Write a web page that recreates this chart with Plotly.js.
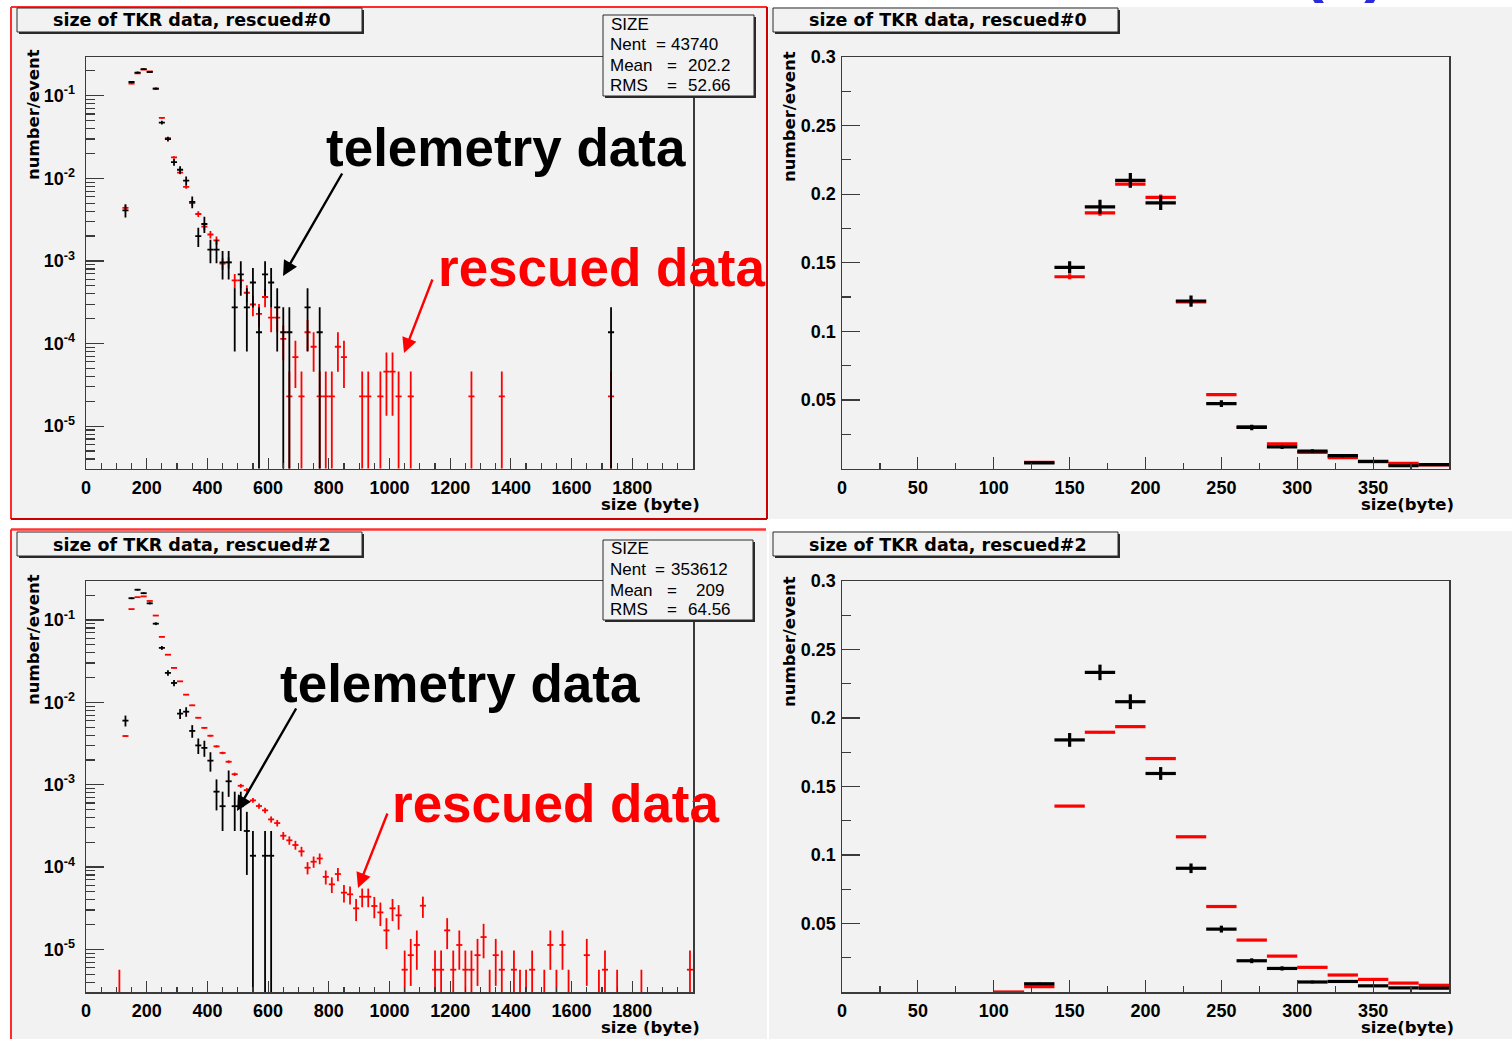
<!DOCTYPE html>
<html><head><meta charset="utf-8">
<script src="https://cdn.plot.ly/plotly-3.0.1.min.js"></script>
<style>html,body{margin:0;padding:0;background:#fff;}#chart{width:1512px;height:1039px;}</style>
</head><body><div id="chart"></div>
<script>
// ---------------- DATA (per-event fractions, 20-byte bins, bin centres) ----------------
const N_TEL = 7290;       // telemetry events (1 count = 1.37e-4)
const N_RES0 = 43740;     // rescued#0 entries
const N_RES2 = 353612;    // rescued#2 entries

const tel0X = [130,150,170,190,210,230,250,270,290,310,330,350,370,390,410,430,450,470,490,510,530,550,570,590,610,630,650,670,730,770,1730];
const tel0Y = [0.0041,0.1466,0.1908,0.2100,0.1937,0.1221,0.0473,0.0299,0.0157,0.0127,0.0094,0.0052,0.0020,0.0028,0.00137,0.00137,0.00096,0.00096,0.000274,0.000686,0.000274,0.000548,0.000137,0.000686,0.000548,0.000274,0.000137,0.000137,0.000274,0.000137,0.000137];

const res0X = [130,150,170,190,210,230,250,270,290,310,330,350,370,390,410,430,450,470,490,510,530,550,570,590,610,630,650,670,690,710,730,750,770,790,810,830,850,910,930,970,990,1010,1030,1070,1270,1370,1730];
const res0Y = [0.0044,0.1398,0.1864,0.2073,0.1976,0.1215,0.0539,0.0306,0.0179,0.0117,0.0079,0.0050,0.0037,0.0026,0.00209,0.00177,0.00093,0.00096,0.00058,0.00058,0.000412,0.000297,0.000229,0.000366,0.000206,0.000206,0.000114,0.0000229,0.0000686,0.0000229,0.000137,0.0000914,0.0000229,0.0000229,0.0000229,0.0000914,0.0000686,0.0000229,0.0000229,0.0000229,0.0000457,0.0000457,0.0000229,0.0000229,0.0000229,0.0000229,0.0000229];

const tel2X = [130,150,170,190,210,230,250,270,290,310,330,350,370,390,410,430,450,470,490,510,530,550,590,610];
const tel2Y = [0.0060,0.1840,0.2333,0.2119,0.1595,0.0903,0.0459,0.0228,0.0172,0.0073,0.0077,0.0045,0.0030,0.0028,0.00196,0.000823,0.000548,0.0011,0.000548,0.000548,0.000274,0.000137,0.000137,0.000137];

const res2X = [110,130,150,170,190,210,230,250,270,290,310,330,350,370,390,410,430,450,470,490,510,530,550,570,590,610,630,650,670,690,710,730,750,770,790,810,830,850,870,890,910,930,950,970,990,1010,1030,1050,1070,1090,1110,1150,1170,1190,1210,1230,1250,1270,1290,1310,1330,1350,1370,1410,1430,1450,1470,1510,1530,1550,1570,1590,1650,1690,1710,1750,1830,1990];
const res2Y = [0.00000283,0.0039,0.1357,0.1896,0.1937,0.1704,0.1133,0.0624,0.0379,0.0262,0.0180,0.0124,0.0092,0.0065,0.0049,0.00393,0.00292,0.00243,0.0019,0.00134,0.00097,0.00086,0.000645,0.000551,0.000488,0.000379,0.000342,0.00024,0.000211,0.000185,0.000155,0.000098,0.000116,0.000127,0.000076,0.0000616,0.0000822,0.0000488,0.0000466,0.0000315,0.0000436,0.0000436,0.0000336,0.0000281,0.0000170,0.0000315,0.0000259,0.00000566,0.0000085,0.0000113,0.0000339,0.00000566,0.00000566,0.000017,0.00000566,0.0000113,0.00000566,0.00000566,0.0000085,0.0000141,0.00000283,0.0000085,0.00000566,0.00000566,0.00000283,0.00000283,0.00000566,0.00000283,0.0000113,0.00000283,0.0000113,0.00000283,0.0000085,0.00000283,0.00000566,0.00000283,0.00000283,0.00000566];

const panelTitles = ['size of TKR data, rescued#0','size of TKR data, rescued#2'];
const stat0 = {name:'SIZE', nent:'43740', mean:'202.2', rms:'52.66'};
const stat2 = {name:'SIZE', nent:'353612', mean:'209', rms:'64.56'};

const logTickVals = [1e-5,1e-4,1e-3,1e-2,1e-1];
const logTickText = ['10<sup>-5</sup>','10<sup>-4</sup>','10<sup>-3</sup>','10<sup>-2</sup>','10<sup>-1</sup>'];
const linTickVals = [0.05,0.1,0.15,0.2,0.25,0.3];
const linTickText = ['0.05','0.1','0.15','0.2','0.25','0.3'];
const wideXTicks = [0,200,400,600,800,1000,1200,1400,1600,1800];
const zoomXTicks = [0,50,100,150,200,250,300,350];

// ---------------- helpers ----------------
const W = 1512, H = 1039;
const px = x => x / W, py = y => 1 - y / H;
const errs = (vals, N) => vals.map(v => Math.sqrt(v / N));
const RED = '#ff0000', BLK = '#000000';
function series(xs, ys, N, color, thick, xa, ya) {
  return {type:'scatter', mode:'markers', x:xs, y:ys, xaxis:xa, yaxis:ya,
    marker:{size:1, color:color, opacity:0},
    error_y:{type:'data', array:errs(ys, N), visible:true, color:color, thickness:thick, width:0},
    error_x:{type:'constant', value:10, visible:true, color:color, thickness:thick, width:0},
    hoverinfo:'skip', showlegend:false, cliponaxis:true};
}
const traces = [
  series(res0X, res0Y, N_RES0, RED, 1.8, 'x', 'y'),
  series(tel0X, tel0Y, N_TEL, BLK, 1.8, 'x', 'y'),
  series(res0X, res0Y, N_RES0, RED, 3.2, 'x2', 'y2'),
  series(tel0X, tel0Y, N_TEL, BLK, 3.2, 'x2', 'y2'),
  series(res2X, res2Y, N_RES2, RED, 1.8, 'x3', 'y3'),
  series(tel2X, tel2Y, N_TEL, BLK, 1.8, 'x3', 'y3'),
  series(res2X, res2Y, N_RES2, RED, 3.2, 'x4', 'y4'),
  series(tel2X, tel2Y, N_TEL, BLK, 3.2, 'x4', 'y4')
];

const minorLog = [];
for (let e = -6; e <= -1; e++) for (let d = 2; d <= 9; d++) minorLog.push(d * Math.pow(10, e));

const tickFont = {family:'Liberation Sans', size:18, weight:700, color:'#000'};
const base = {showline:true, mirror:true, linecolor:'#3a3a3a', linewidth:1.5, showgrid:false, zeroline:false,
  ticks:'inside', tickcolor:'#3a3a3a', tickwidth:1.2, tickfont:tickFont, fixedrange:true, tickmode:'array'};
const colL = [px(86), px(693)], colR = [px(842), px(1449)];
const rowT = [py(468.5), py(57)], rowB = [py(992), py(581)];
function wideX(anchor, dom) { return Object.assign({}, base, {domain:dom, anchor:anchor, range:[0,2000], tickvals:wideXTicks, ticktext:wideXTicks.map(String), ticklen:11, ticklabelstandoff:2,
  minor:{tickmode:'linear', tick0:0, dtick:50, ticklen:5.5, ticks:'inside', tickcolor:'#3a3a3a', tickwidth:1.2}}); }
function zoomX(anchor, dom) { return Object.assign({}, base, {domain:dom, anchor:anchor, range:[0,400], tickvals:zoomXTicks, ticktext:zoomXTicks.map(String), ticklen:12, ticklabelstandoff:2,
  minor:{tickmode:'linear', tick0:0, dtick:25, ticklen:6, ticks:'inside', tickcolor:'#3a3a3a', tickwidth:1.2}}); }
function logY(anchor, dom, rng) { return Object.assign({}, base, {domain:dom, anchor:anchor, type:'log', range:rng, tickvals:logTickVals, ticktext:logTickText, ticklen:18, ticklabelstandoff:6,
  minor:{tickmode:'array', tickvals:minorLog, ticklen:9, ticks:'inside', tickcolor:'#3a3a3a', tickwidth:1.2}}); }
function linY(anchor, dom) { return Object.assign({}, base, {domain:dom, anchor:anchor, range:[0,0.3], tickvals:linTickVals, ticktext:linTickText, ticklen:18, ticklabelstandoff:1,
  minor:{tickmode:'linear', tick0:0, dtick:0.025, ticklen:9, ticks:'inside', tickcolor:'#3a3a3a', tickwidth:1.2}}); }

// ---------------- shapes ----------------
const shapes = [];
function rect(x0, y0, x1, y1, fill, line, lw, layer) {
  shapes.push({type:'rect', xref:'paper', yref:'paper', x0:px(x0), x1:px(x1), y0:py(y1), y1:py(y0),
    fillcolor:fill, line:{color:line || 'rgba(0,0,0,0)', width:lw || 0}, layer:layer || 'above'});
}
function seg(x0, y0, x1, y1, color, w) {
  shapes.push({type:'line', xref:'paper', yref:'paper', x0:px(x0), x1:px(x1), y0:py(y0), y1:py(y1), line:{color:color, width:w}, layer:'above'});
}
const PANEL = '#f2f2f2';
rect(11, 7, 767, 519, PANEL, null, 0, 'below');
rect(769, 7, 1512, 519, PANEL, null, 0, 'below');
rect(11, 531, 767, 1039, PANEL, null, 0, 'below');
rect(769, 531, 1512, 1039, PANEL, null, 0, 'below');
// red highlight frames
seg(11, 7, 767, 7, '#ff2a2a', 2);
seg(11, 7, 11, 519, '#ff2a2a', 2);
seg(767, 7, 767, 519, '#d00000', 2);
seg(11, 519, 767, 519, '#c80000', 2);
seg(11, 529.5, 766, 529.5, '#ff3333', 2.5);
seg(11, 529.5, 11, 1039, '#ff2a2a', 2);
// title boxes (shadow + box)
function tbox(x0, y0, x1, y1) {
  rect(x0 + 2, y0 + 2, x1 + 2, y1 + 2, '#2a2a2a');
  rect(x0, y0, x1, y1, PANEL, '#2a2a2a', 1);
}
tbox(17, 8, 362, 32);
tbox(773, 8, 1118, 32);
tbox(17, 532, 362, 556);
tbox(773, 532, 1118, 556);
// stat boxes
tbox(603, 15, 754, 96);
tbox(603, 540, 753, 620);

// ---------------- annotations ----------------
const ann = [];
function txt(x, y, text, font, opts) {
  ann.push(Object.assign({xref:'paper', yref:'paper', x:px(x), y:py(y), text:text, showarrow:false,
    xanchor:'center', yanchor:'middle', font:font, borderpad:0}, opts || {}));
}
function arrow(tx, ty, sx, sy, color) {
  ann.push({xref:'paper', yref:'paper', x:px(tx), y:py(ty), ax:sx - tx, ay:sy - ty, text:'', showarrow:true,
    arrowhead:2, arrowsize:1.25, arrowwidth:2.4, arrowcolor:color, standoff:0, startstandoff:0});
}
const titleFont = {family:'DejaVu Sans', size:17.5, weight:700, color:'#000'};
const statFont = {family:'Liberation Sans', size:17, color:'#000'};
const bigFont = c => ({family:'Liberation Sans', size:53, weight:700, color:c});
txt(192, 20.5, panelTitles[0], titleFont);
txt(948, 20.5, panelTitles[0], titleFont);
txt(192, 545, panelTitles[1], titleFont);
txt(948, 545, panelTitles[1], titleFont);

function stats(s, top, eqN, valR) {
  txt(610, top + 9, s.name, statFont, {xanchor:'left'});
  txt(609, top + 29.5, 'Nent', statFont, {xanchor:'left'});
  txt(eqN, top + 29.5, '=', statFont);
  txt(670, top + 29.5, s.nent, statFont, {xanchor:'left'});
  txt(609, top + 50.5, 'Mean', statFont, {xanchor:'left'});
  txt(671.5, top + 50.5, '=', statFont);
  txt(valR, top + 50.5, s.mean, statFont, {xanchor:'right'});
  txt(609, top + 70, 'RMS', statFont, {xanchor:'left'});
  txt(671.5, top + 70, '=', statFont);
  txt(732, top + 70, s.rms, statFont, {xanchor:'right'});
}
stats(stat0, 15, 661, 732);
stats(stat2, 539.5, 659.5, 725);

const axFont = {family:'DejaVu Sans', size:16.5, weight:700, color:'#000'};
txt(33, 115, 'number/event', axFont, {textangle:-90});
txt(789, 117, 'number/event', axFont, {textangle:-90});
txt(33, 640, 'number/event', axFont, {textangle:-90});
txt(789, 642, 'number/event', axFont, {textangle:-90});
txt(701, 504, 'size (byte)', axFont, {xanchor:'right'});
txt(1455, 504, 'size(byte)', axFont, {xanchor:'right'});
txt(701, 1027, 'size (byte)', axFont, {xanchor:'right'});
txt(1455, 1027, 'size(byte)', axFont, {xanchor:'right'});

txt(506, 147, 'telemetry data', bigFont('#000'));
txt(602, 268, 'rescued data', bigFont(RED));
txt(460, 683, 'telemetry data', bigFont('#000'));
txt(556, 803, 'rescued data', bigFont(RED));
arrow(283, 276, 343, 172, '#000');
arrow(404, 353, 433, 278, RED);
arrow(237, 811, 297, 707, '#000');
arrow(358, 888, 388, 812, RED);

// cut-off blue label at the very top edge
txt(1344, 4, '(b)', {family:'Liberation Sans', size:66, weight:700, color:'#2a2ad8'}, {yanchor:'bottom'});

const layout = {
  width:W, height:H, margin:{l:0, r:0, t:0, b:0}, autosize:false,
  paper_bgcolor:'#ffffff', plot_bgcolor:'rgba(0,0,0,0)', showlegend:false,
  xaxis:wideX('y', colL), yaxis:logY('x', rowT, [-5.513, -0.531]),
  xaxis2:zoomX('y2', colR), yaxis2:linY('x2', rowT),
  xaxis3:wideX('y3', colL), yaxis3:logY('x3', rowB, [-5.518, -0.526]),
  xaxis4:zoomX('y4', colR), yaxis4:linY('x4', rowB),
  shapes:shapes, annotations:ann
};
Plotly.newPlot('chart', traces, layout, {staticPlot:true, displayModeBar:false});
</script></body></html>
